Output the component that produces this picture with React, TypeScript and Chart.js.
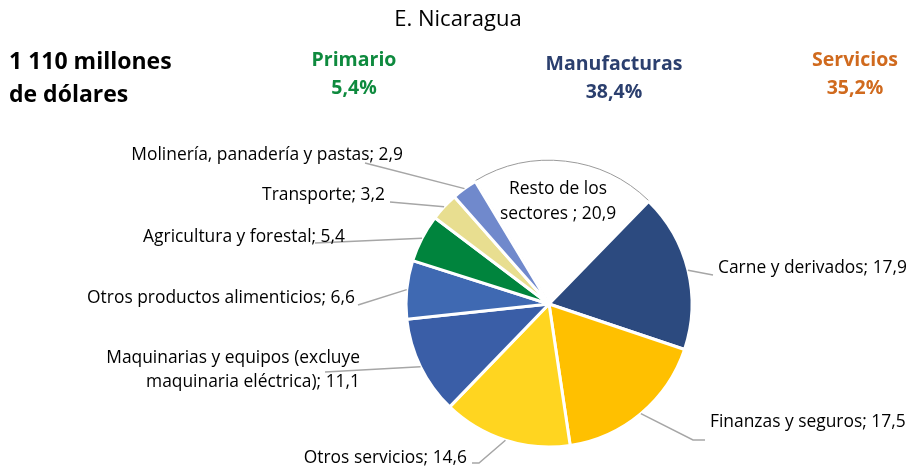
import React, { useEffect, useRef } from "react";
import { Chart, registerables } from "chart.js";

Chart.register(...registerables);

const categories = [
  "Resto de los sectores ",
  "Carne y derivados",
  "Finanzas y seguros",
  "Otros servicios",
  "Maquinarias y equipos (excluye maquinaria eléctrica)",
  "Otros productos alimenticios",
  "Agricultura y forestal",
  "Transporte",
  "Molinería, panadería y pastas",
];
const values = [20.9, 17.9, 17.5, 14.6, 11.1, 6.6, 5.4, 3.2, 2.9];
const colors = [
  "#FFFFFF",
  "#2C4A7F",
  "#FFC000",
  "#FFD520",
  "#3A5EA7",
  "#3F69B2",
  "#00843D",
  "#E8DE90",
  "#7089CC",
];
const title = "E. Nicaragua";
const totalLines = ["1 110 millones", "de dólares"];
const sectorNames = ["Primario", "Manufacturas", "Servicios"];
const sectorShares = ["5,4%", "38,4%", "35,2%"];
const sectorColors = ["#0E8A3E", "#2B3F6E", "#D06A1E"];

const fmt = (v: number) => v.toFixed(1).replace(".", ",");

const labelLayout: any[] = [
  { lines: ["Resto de los", "sectores ; 20,9"], x: 558, y: 189, align: "center", gap: 25 },
  { x: 718, y: 268, align: "left", path: [[713, 275]] },
  { x: 710, y: 422, align: "left", path: [[693, 440], [705, 440]] },
  { x: 467, y: 458, align: "right", path: [[479, 463], [472, 463]] },
  { lines: ["Maquinarias y equipos (excluye", "maquinaria eléctrica); 11,1"], x: 360, y: 358, align: "right", path: [[325, 372]] },
  { x: 355, y: 298, align: "right", path: [[358, 305]] },
  { x: 345, y: 237, align: "right", path: [[315, 243]] },
  { x: 385, y: 195, align: "right", path: [[390, 202]] },
  { x: 403, y: 155, align: "right", path: [[365, 163]] },
];

const FONT = "'Open Sans', 'Noto Sans', sans-serif";

const overlay = {
  id: "overlay",
  afterDraw(chart: any) {
    const ctx = chart.ctx as CanvasRenderingContext2D;
    ctx.save();
    ctx.textBaseline = "middle";
    ctx.fillStyle = "#000";
    ctx.font = `22px ${FONT}`;
    ctx.textAlign = "center";
    ctx.fillText(title, 458, 20);
    ctx.font = `bold 23px ${FONT}`;
    ctx.textAlign = "left";
    ctx.fillText(totalLines[0], 9, 62);
    ctx.fillText(totalLines[1], 9, 95);
    const cx = [354, 614, 855];
    const cy = [60, 64, 60];
    ctx.font = `bold 19.5px ${FONT}`;
    ctx.textAlign = "center";
    for (let i = 0; i < 3; i++) {
      ctx.fillStyle = sectorColors[i];
      ctx.fillText(sectorNames[i], cx[i], cy[i]);
      ctx.fillText(sectorShares[i], cx[i], cy[i] + 28);
    }
    const meta = chart.getDatasetMeta(0);
    ctx.font = `17.4px ${FONT}`;
    meta.data.forEach((arc: any, i: number) => {
      const L = labelLayout[i];
      const lines = L.lines || [`${categories[i]}; ${fmt(values[i])}`];
      if (L.path) {
        const mid = (arc.startAngle + arc.endAngle) / 2;
        const r = arc.outerRadius;
        const sx = arc.x + Math.cos(mid) * r;
        const sy = arc.y + Math.sin(mid) * r;
        ctx.strokeStyle = "#A6A6A6";
        ctx.lineWidth = 1.5;
        ctx.beginPath();
        ctx.moveTo(sx, sy);
        L.path.forEach((p: number[]) => ctx.lineTo(p[0], p[1]));
        ctx.stroke();
      }
      ctx.fillStyle = "#000";
      ctx.textAlign = L.align;
      lines.forEach((t: string, k: number) => {
        ctx.fillText(t, L.x, L.y + k * (L.gap || 24));
      });
    });
    ctx.restore();
  },
};

export default function App() {
  const ref = useRef<HTMLCanvasElement>(null);
  useEffect(() => {
    if (!ref.current) return;
    const chart = new Chart(ref.current, {
      type: "pie",
      data: {
        labels: categories,
        datasets: [
          {
            data: values,
            backgroundColor: colors,
            borderColor: colors.map((c, i) => (i === 0 ? "#9A9A9A" : "#FFFFFF")),
            borderWidth: colors.map((c, i) => (i === 0 ? 1 : 3)),
            offset: colors.map((c, i) => (i === 0 ? 3 : 0)),
          } as any,
        ],
      },
      options: {
        responsive: false,
        animation: false,
        radius: 143,
        rotation: -31,
        layout: { padding: { left: 200, right: 8, top: 150, bottom: 11 } },
        plugins: { legend: { display: false }, tooltip: { enabled: false }, title: { display: false } },
      } as any,
      plugins: [overlay],
    });
    return () => chart.destroy();
  }, []);
  return (
    <div style={{ position: "fixed", left: 0, top: 0, width: 906, height: 469, background: "#fff" }}>
      <canvas ref={ref} width={906} height={469} style={{ width: 906, height: 469 }} />
    </div>
  );
}
